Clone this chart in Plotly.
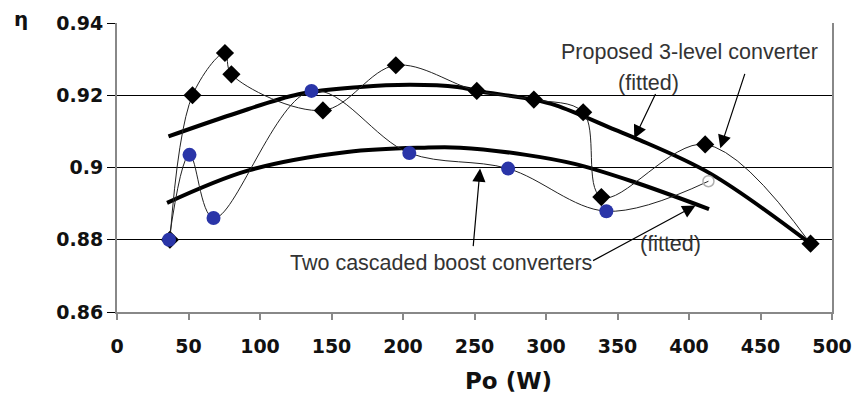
import plotly.graph_objects as go

# Measured efficiency, proposed 3-level converter
p3_po = [37, 52.8, 75.5, 80, 144, 195, 251.6, 291.5, 326, 338.7, 411.3, 485]
p3_eta = [0.880, 0.920, 0.9317, 0.9258, 0.9158, 0.9283, 0.9212, 0.9188, 0.9153, 0.8918, 0.9064, 0.8789]

# Measured efficiency, two cascaded boost converters
cb_po = [36.4, 50.7, 67.5, 136, 204.4, 273.5, 342.2]
cb_eta = [0.8800, 0.9035, 0.8860, 0.9212, 0.9040, 0.8997, 0.8879]
cb_last_po = [413.6]
cb_last_eta = [0.8962]

# Fitted trend curves
p3_fit_po = [36, 80, 127, 170, 205, 238, 252, 291, 307, 348, 362, 415, 485]
p3_fit_eta = [0.9086, 0.9146, 0.9203, 0.9223, 0.9229, 0.9223, 0.9212, 0.9188, 0.9172, 0.9105, 0.9082, 0.8983, 0.8789]
cb_fit_po = [35, 92, 161, 215, 240, 286, 320, 360, 414]
cb_fit_eta = [0.8902, 0.8992, 0.9043, 0.9055, 0.9055, 0.9035, 0.9010, 0.8962, 0.8885]

x_ticks = [0, 50, 100, 150, 200, 250, 300, 350, 400, 450, 500]
y_ticks = [0.86, 0.88, 0.90, 0.92, 0.94]
y_tick_text = ["0.86", "0.88", "0.9", "0.92", "0.94"]

L, R, T, B = 117, 24, 23, 84
W, H = 864, 396
PW, PH = W - L - R, H - T - B


def px_x(px):
    return (px - L) / PW


def px_y(py):
    return (H - B - py) / PH


fig = go.Figure()

fig.add_trace(go.Scatter(x=p3_fit_po, y=p3_fit_eta, mode="lines",
                         line=dict(color="black", width=4, shape="spline"), showlegend=False))
fig.add_trace(go.Scatter(x=cb_fit_po, y=cb_fit_eta, mode="lines",
                         line=dict(color="black", width=4, shape="spline"), showlegend=False))

fig.add_trace(go.Scatter(x=p3_po, y=p3_eta, mode="lines+markers",
                         line=dict(color="#222", width=1, shape="spline", smoothing=1),
                         marker=dict(symbol="diamond", size=14, color="black"), showlegend=False))
fig.add_trace(go.Scatter(x=cb_po + cb_last_po, y=cb_eta + cb_last_eta, mode="lines",
                         line=dict(color="#222", width=1, shape="spline", smoothing=1), showlegend=False))
fig.add_trace(go.Scatter(x=cb_po, y=cb_eta, mode="markers",
                         marker=dict(symbol="circle", size=14, color="#2a35a8"), showlegend=False))
fig.add_trace(go.Scatter(x=cb_last_po, y=cb_last_eta, mode="markers",
                         marker=dict(symbol="circle-open", size=11, color="#b0b0b0", line=dict(width=1.5)),
                         showlegend=False))

txt_font = dict(family="Liberation Sans, Arial", size=21.5, color="#333")
fig.add_annotation(x=400, y=0.9319, text="Proposed 3-level converter", showarrow=False, font=txt_font)
fig.add_annotation(x=371.4, y=0.9233, text="(fitted)", showarrow=False, font=txt_font)
fig.add_annotation(x=226.9, y=0.8737, text="Two cascaded boost converters", showarrow=False, font=txt_font)
fig.add_annotation(x=387.3, y=0.8789, text="(fitted)", showarrow=False, font=txt_font)

arrow_style = dict(text="", showarrow=True, arrowhead=2, arrowsize=2.2, arrowwidth=1.2, arrowcolor="black")
fig.add_annotation(x=361.7, y=0.9080, ax=22, ay=-46, **arrow_style)
fig.add_annotation(x=421.9, y=0.9053, ax=25, ay=-76, **arrow_style)
fig.add_annotation(x=253.9, y=0.8997, ax=-7, ay=79, **arrow_style)
fig.add_annotation(x=404.6, y=0.8895, ax=-104, ay=56, **arrow_style)

fig.add_annotation(xref="paper", yref="paper", x=px_x(513), y=px_y(381),
                   xanchor="center", yanchor="middle",
                   text="<b>Po (W)</b>", showarrow=False,
                   font=dict(family="DejaVu Sans", size=23, color="#111"))
fig.add_annotation(xref="paper", yref="paper", x=px_x(20), y=px_y(19),
                   xanchor="center", yanchor="middle",
                   text="<b>η</b>", showarrow=False,
                   font=dict(family="DejaVu Sans", size=20, color="#111"))

tick_font = dict(family="DejaVu Sans", size=19, color="#111", weight="bold")
fig.update_xaxes(range=[0, 500], tickvals=x_ticks, showgrid=False, zeroline=False,
                 showline=True, linecolor="#888", linewidth=2,
                 ticks="outside", ticklen=6, tickcolor="#888", tickwidth=2,
                 ticklabelstandoff=10, tickfont=tick_font)
fig.update_yaxes(range=[0.86, 0.94], tickvals=y_ticks, ticktext=y_tick_text,
                 showgrid=True, gridcolor="black", gridwidth=1, zeroline=False,
                 showline=True, linecolor="#888", linewidth=2, mirror=True,
                 ticks="outside", ticklen=8, tickcolor="black", tickwidth=1,
                 ticklabelstandoff=0, tickfont=tick_font)

fig.update_layout(width=W, height=H, margin=dict(l=L, r=R, t=T, b=B),
                  plot_bgcolor="white", paper_bgcolor="white")

fig.write_html("out.html")
